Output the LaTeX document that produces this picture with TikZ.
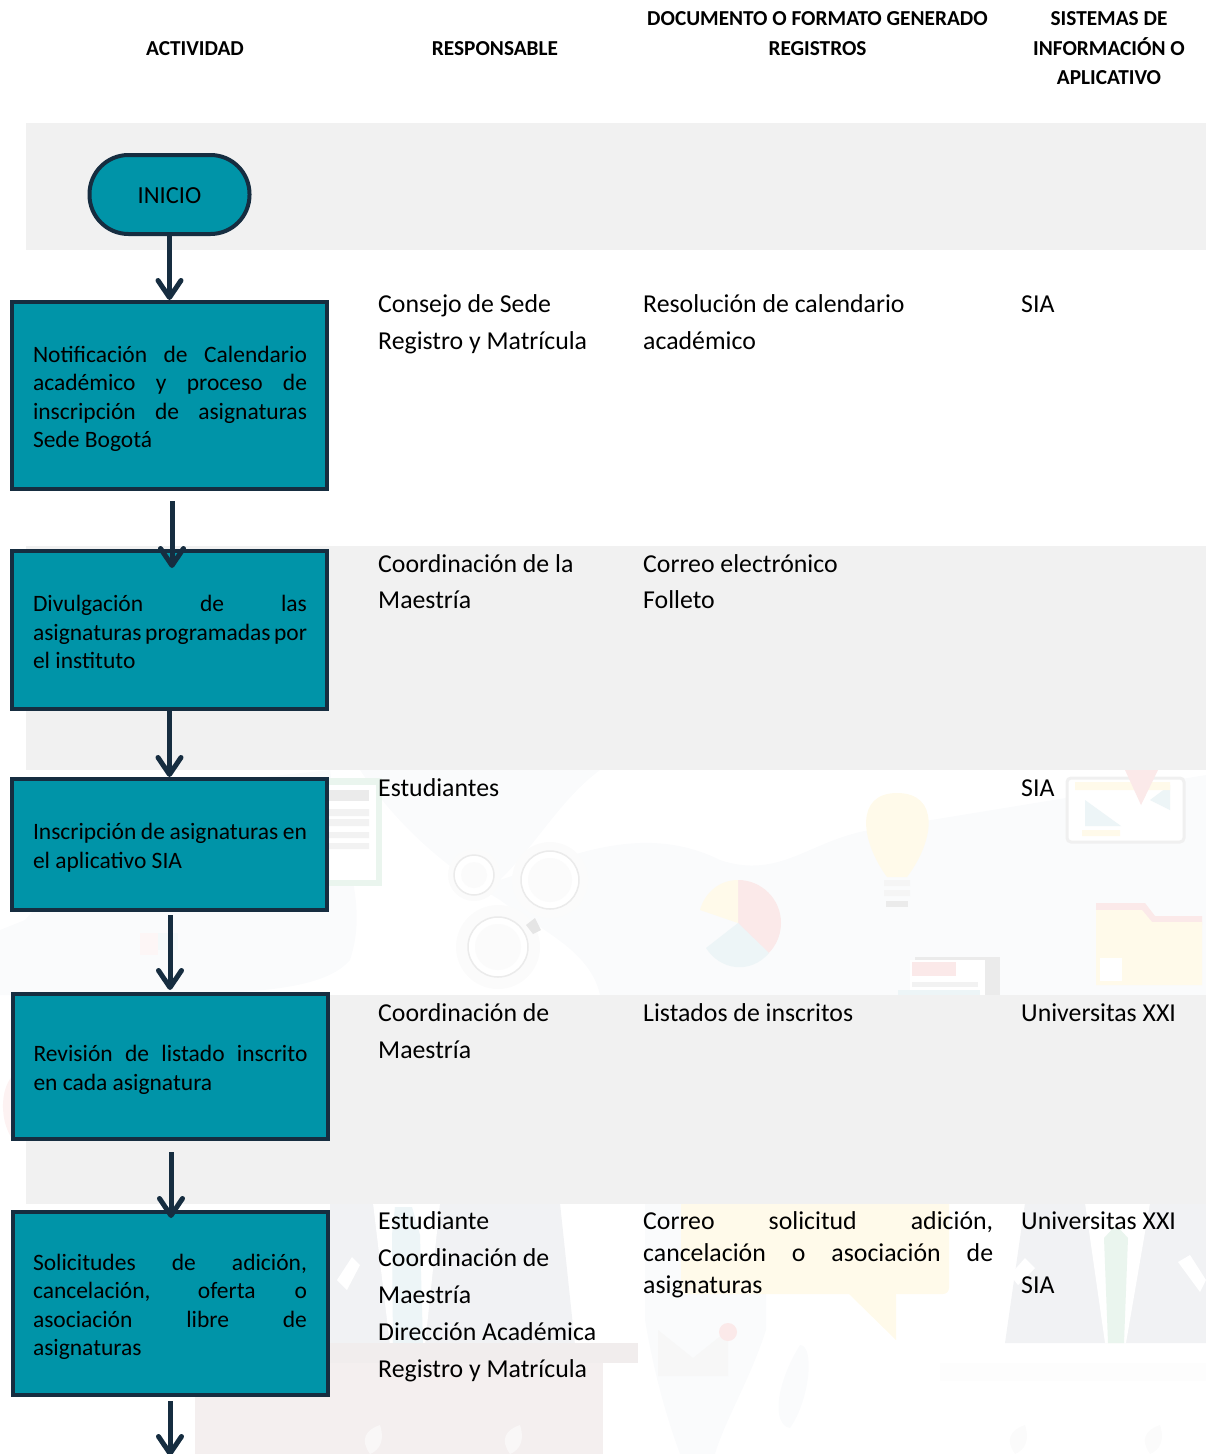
\documentclass[tikz,border=0pt]{standalone}
\usepackage{fontspec}
\setmainfont{Carlito}
\usetikzlibrary{arrows.meta}
\definecolor{teal}{HTML}{0094A8}
\definecolor{navy}{HTML}{162D40}
\definecolor{band}{HTML}{F1F1F1}
\definecolor{mapc}{HTML}{FAFBFC}
\definecolor{suit}{HTML}{F1F2F4}
\definecolor{pinkw}{HTML}{F4EFEF}
\definecolor{yelw}{HTML}{FFFAEA}
\definecolor{redw}{HTML}{FBE9E9}
\definecolor{bluew}{HTML}{EDF5F7}
\definecolor{greenw}{HTML}{EAF5EE}
\newcommand\jl[1]{\makebox[274pt][s]{\spaceskip=0pt #1}}
\newcommand\jc[1]{\makebox[350pt][s]{\spaceskip=0pt #1}}
\newcommand\fl{\spaceskip=0pt\rule{0pt}{20pt}}
\newcommand\bl{\spaceskip=0pt\rule{0pt}{23pt}}
\tikzset{
  x=1pt,y=-1pt,
  flowbox/.style={draw=navy,line width=4pt,fill=teal,rectangle,inner sep=0pt,text width=274pt,align=left,
    font=\fontsize{23.5}{28.5}\selectfont,text=black},
  terminator/.style={draw=navy,line width=4pt,fill=teal,rounded corners=39pt,rectangle,inner sep=0pt,
    font=\fontsize{24.5}{28}\selectfont,text=black},
  flowarrow/.style={draw=navy,line width=5pt,-{Straight Barb[length=17pt,width=23pt,round,line width=5pt]}},
  cell/.style={anchor=north west,inner sep=0pt,align=left,font=\fontsize{25.8}{37}\selectfont,text=black},
  cellc/.style={cell,font=\fontsize{25.8}{32}\selectfont},
  head/.style={anchor=north,inner sep=0pt,align=center,font=\fontsize{21.3}{29.5}\selectfont\bfseries,text=black},
}
\begin{document}
\begin{tikzpicture}
\useasboundingbox (0,0) rectangle (1206,1454);
% watermark, upper part
\begin{scope}
\clip (0,770) rectangle (1206,995);
\fill[mapc] (25,920) .. controls (60,880) and (90,850) .. (140,790) -- (330,770) .. controls (340,850) and (370,900) .. (350,960) .. controls (320,995) and (230,995) .. (60,995) -- (0,995) -- (0,930) -- cycle;
\fill[mapc] (360,770) -- (600,770) .. controls (560,800) and (540,840) .. (500,880) .. controls (560,860) and (640,820) .. (720,860) .. controls (780,880) and (810,840) .. (870,830) -- (1206,775) -- (1206,995) -- (600,995) .. controls (590,950) and (540,930) .. (500,900) .. controls (450,870) and (400,830) .. cycle;
\fill[redw!40!white] (140,933) rectangle (158,955);
\fill[bluew!60!white] (158,933) rectangle (178,950);
% document
\fill[greenw] (320,778) rectangle (382,886);
\fill[white] (320,785) rectangle (376,880);
\fill[black!8] (328,790) rectangle (369,801);
\fill[black!5] (328,809) rectangle (369,816) (328,819) rectangle (369,826) (328,832) rectangle (369,838) (328,843) rectangle (369,849);
% gears
\fill[black!1.5] (474,875) circle (26) (550,880) circle (38) (498,947) circle (42);
\foreach \cx/\cy/\r in {474/875/20,550/880/29,498/947/30}{
  \fill[white] (\cx,\cy) circle (\r);
  \draw[black!8,line width=1.5pt] (\cx,\cy) circle (\r);
  \fill[black!1.5] (\cx,\cy) circle (\r-7);
}
\fill[black!10] (526,925) -- (535,918) -- (541,930) -- (533,934) -- cycle;
% pie
\fill[redw] (738,923) -- (738,880) arc[start angle=-90,end angle=55,radius=43] -- cycle;
\fill[bluew] (738,923) -- (769,953) .. controls (750,975) and (720,970) .. (706,948) -- cycle;
\fill[yelw] (738,923) -- (700,910) .. controls (705,892) and (720,880) .. (738,880) -- cycle;
% bulb
\fill[yelw] (897,793) .. controls (940,793) and (935,840) .. (907,877) -- (887,877) .. controls (860,840) and (855,793) .. (897,793) -- cycle;
\fill[black!4] (884,880) rectangle (910,886) (884,890) rectangle (910,896);
\fill[black!8] (886,901) rectangle (908,907);
% chart card
\draw[black!6,line width=3pt,rounded corners=4pt,fill=white] (1067,778) rectangle (1184,842);
\fill[bluew] (1085,800) -- (1121,826) -- (1085,826) -- cycle;
\fill[bluew] (1170,785) -- (1170,810) -- (1150,800) -- cycle;
\fill[yelw] (1075,782) rectangle (1170,790) (1082,830) rectangle (1120,836);
\fill[redw] (1125,770) -- (1158,770) -- (1141,805) -- cycle;
% folder
\fill[redw] (1096,903) -- (1145,903) -- (1155,916) -- (1202,916) -- (1202,925) -- (1096,925) -- cycle;
\fill[yelw] (1096,910) -- (1142,910) -- (1152,922) -- (1202,922) -- (1202,985) -- (1096,985) -- cycle;
\fill[white] (1100,958) rectangle (1122,981);
% report
\fill[black!8] (915,957) rectangle (1000,995);
\fill[white] (910,960) rectangle (985,995);
\fill[redw] (912,962) rectangle (956,976);
\fill[black!5] (912,982) rectangle (978,987);
\fill[bluew] (898,990) rectangle (980,995);
\end{scope}
% left edge red arc
\fill[redw!60!white] (26,1070) .. controls (0,1070) and (-4,1120) .. (14,1141) -- (26,1141) -- cycle;
% watermark, lower part
\begin{scope}
\clip (0,1203) rectangle (1206,1454);
% left person
\fill[suit] (330,1203) -- (560,1203) -- (575,1345) -- (330,1345) -- cycle;
\fill[white] (373,1203) -- (440,1203) -- (425,1345) -- (390,1345) -- cycle;
\fill[bluew] (395,1207) -- (412,1207) -- (420,1235) -- (423,1345) -- (393,1345) -- (392,1235) -- cycle;
\fill[white] (337,1280) -- (352,1257) -- (360,1265) -- (347,1290) -- cycle;
% podium
\fill[pinkw] (195,1345) rectangle (603,1454);
\fill[black!1!pinkw] (330,1343) rectangle (638,1363);
\foreach \lx in {370,510}{
  \fill[white!50!pinkw] (\lx,1454) .. controls (\lx-10,1440) and (\lx-5,1430) .. (\lx+10,1425) .. controls (\lx+15,1440) and (\lx+10,1450) .. (\lx,1454);
}
% africa
\fill[mapc] (645,1203) -- (766,1203) -- (766,1330) .. controls (750,1380) and (725,1420) .. (715,1454) -- (680,1454) .. controls (660,1400) and (650,1350) .. (645,1320) -- cycle;
\fill[mapc] (800,1345) .. controls (815,1345) and (810,1400) .. (790,1428) .. controls (772,1425) and (775,1385) .. (800,1345) -- cycle;
% envelope
\fill[black!3] (658,1330) -- (693,1358) -- (728,1330) -- (728,1376) -- (658,1376) -- cycle;
\fill[redw] (728,1332) circle (9);
% speech bubble
\fill[yelw,rounded corners=6pt] (681,1195) rectangle (949,1294);
\fill[yelw] (848,1293) -- (896,1293) -- (896,1340) -- cycle;
% right person
\fill[suit] (1025,1203) -- (1206,1203) -- (1206,1343) -- (1005,1343) -- cycle;
\fill[white] (1085,1203) -- (1150,1203) -- (1126,1343) -- (1105,1343) -- cycle;
\fill[greenw] (1104,1238) -- (1116,1225) -- (1128,1238) -- (1124,1343) -- (1108,1343) -- cycle;
\fill[white] (1010,1275) -- (1025,1258) -- (1035,1268) -- (1018,1285) -- cycle;
\fill[white] (1178,1262) -- (1190,1255) -- (1206,1280) -- (1200,1292) -- cycle;
% right podium
\fill[black!0.8] (940,1363) rectangle (1206,1381);
\foreach \lx in {1015,1150}{
  \fill[black!1.5] (\lx,1454) .. controls (\lx-10,1440) and (\lx-5,1430) .. (\lx+10,1425) .. controls (\lx+15,1440) and (\lx+10,1450) .. (\lx,1454);
}
\end{scope}
% bands
\fill[band] (26,123) rectangle (1206,249.5);
\fill[band] (26,546) rectangle (1206,769.5);
\fill[band] (26,995) rectangle (1206,1203.5);
% headers
\node[head] (h1) at (195,36.5) {\rule{0pt}{19pt}ACTIVIDAD};
\node[head] (h2) at (495,36.5) {\rule{0pt}{19pt}RESPONSABLE};
\node[head] (h3) at (817.5,6.5) {\rule{0pt}{19pt}DOCUMENTO O FORMATO GENERADO\\REGISTROS};
\node[head] (h4) at (1109,6.5) {\rule{0pt}{19pt}SISTEMAS DE\\INFORMACIÓN O\\APLICATIVO};
% flow nodes
\node[terminator,minimum width=160pt,minimum height=79pt] (inicio) at (169.5,194.5) {\rule{0pt}{19pt}INICIO};
\node[flowbox,minimum width=315pt,minimum height=187pt] (n1) at (169.5,395.5) {\bl\hspace*{0.5pt}\jl{Notificación de Calendario}\\\hspace*{0.5pt}\jl{académico y proceso de}\\\hspace*{0.5pt}\jl{inscripción de asignaturas}\\\hspace*{0.5pt}Sede Bogotá};
\node[flowbox,minimum width=315pt,minimum height=158pt] (n2) at (169.5,630) {\spaceskip=0pt\rule{0pt}{21pt}\hspace*{0.5pt}\jl{Divulgación de las}\\\hspace*{0.5pt}\jl{asignaturas programadas por}\\\hspace*{0.5pt}el instituto};
\node[flowbox,minimum width=315pt,minimum height=131pt] (n3) at (169.5,844.5) {\bl\hspace*{0.5pt}\jl{Inscripción de asignaturas en}\\\hspace*{0.5pt}el aplicativo SIA};
\node[flowbox,minimum width=315pt,minimum height=145pt] (n4) at (170.5,1066.5) {\bl\jl{Revisión de listado inscrito}\\en cada asignatura};
\node[flowbox,minimum width=315pt,minimum height=183pt] (n5) at (170,1303.5) {\bl\jl{Solicitudes de adición,}\\\jl{cancelación, oferta o}\\\jl{asociación libre de}\\asignaturas};
% connector anchors
\coordinate (s2) at (172,501);
\coordinate (e2) at (172,568);
\coordinate (s4) at (170,915);
\coordinate (e4) at (170,990);
\coordinate (s5) at (171,1152);
\coordinate (e5) at (171,1218);
\coordinate (s6) at (170,1401);
\coordinate (e6) at (170,1456);
\draw[flowarrow] (inicio.south) -- (n1.north);
\draw[flowarrow] (s2) -- (e2);
\draw[flowarrow] (n2.south) -- (n3.north);
\draw[flowarrow] (s4) -- (e4);
\draw[flowarrow] (s5) -- (e5);
\draw[flowarrow] (s6) -- (e6);
% cells
\node[cell] (r1) at (378,292) {\fl Consejo de Sede\\Registro y Matrícula};
\node[cell] (d1) at (643,292) {\fl Resolución de calendario\\académico};
\node[cell] (s1) at (1021,292) {\fl SIA};
\node[cell,font=\fontsize{25.8}{36.5}\selectfont] (r2) at (378,552) {\fl Coordinación de la\\Maestría};
\node[cell,font=\fontsize{25.8}{36.5}\selectfont] (d2) at (643,552) {\fl Correo electrónico\\Folleto};
\node[cell] (r3) at (378,776) {\fl Estudiantes};
\node[cell] (s3) at (1021,776) {\fl SIA};
\node[cell] (r4) at (378,1001) {\fl Coordinación de\\Maestría};
\node[cell] (d4) at (643,1001) {\fl Listados de inscritos};
\node[cell] (sy4) at (1021,1001) {\fl Universitas XXI};
\node[cell] (r5) at (378,1209) {\fl Estudiante\\Coordinación de\\Maestría\\Dirección Académica\\Registro y Matrícula};
\node[cellc] (d5) at (643,1209) {\fl\jc{Correo solicitud adición,}\\\jc{cancelación o asociación de}\\asignaturas};
\node[cellc,font=\fontsize{25.8}{64}\selectfont] (sy5) at (1021,1209) {\fl Universitas XXI\\SIA};
\end{tikzpicture}
\end{document}
